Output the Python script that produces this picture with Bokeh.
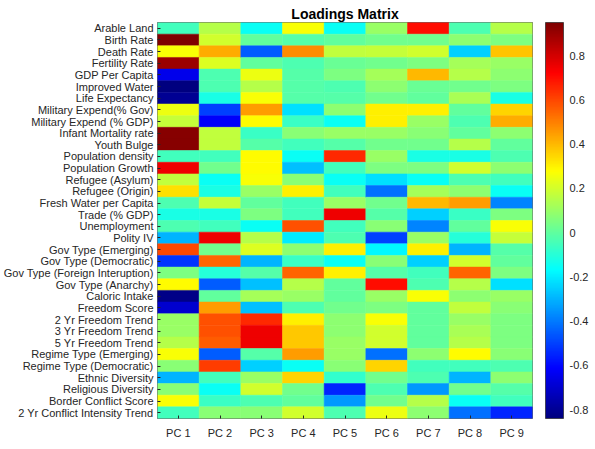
import numpy as np
from bokeh.plotting import figure
from bokeh.models import LinearColorMapper, ColorBar, FixedTicker, ColumnDataSource
from bokeh.transform import transform
from bokeh.embed import file_html
from bokeh.resources import INLINE

variables = ["Arable Land", "Birth Rate", "Death Rate", "Fertility Rate", "GDP Per Capita",
             "Improved Water", "Life Expectancy", "Military Expend(% Gov)",
             "Military Expend (% GDP)", "Infant Mortality rate", "Youth Bulge",
             "Population density", "Population Growth", "Refugee (Asylum)", "Refugee (Origin)",
             "Fresh Water per Capita", "Trade (% GDP)", "Unemployment", "Polity IV",
             "Gov Type (Emerging)", "Gov Type (Democratic)", "Gov Type (Foreign Interuption)",
             "Gov Type (Anarchy)", "Caloric Intake", "Freedom Score", "2 Yr Freedom Trend",
             "3 Yr Freedom Trend", "5 Yr Freedom Trend", "Regime Type (Emerging)",
             "Regime Type (Democratic)", "Ethnic Diversity", "Religious Diversity",
             "Border Conflict Score", "2 Yr Conflict Intensity Trend"]
components = ["PC 1", "PC 2", "PC 3", "PC 4", "PC 5", "PC 6", "PC 7", "PC 8", "PC 9"]

pc1 = [-0.05, 0.95, 0.27, 0.90, -0.65, -0.84, -0.80, 0.25, 0.18, 0.93, 0.93, -0.05, 0.75, 0.17,
       0.33, -0.03, -0.12, -0.03, -0.30, 0.60, -0.52, 0.05, 0.28, -0.82, -0.70, 0.10, 0.10, 0.15,
       0.27, 0.07, -0.30, 0.07, 0.27, -0.05]
pc2 = [0.15, 0.20, 0.42, 0.22, -0.03, -0.03, -0.12, -0.50, -0.62, 0.17, 0.17, -0.05, 0.03, -0.15,
       -0.12, 0.18, -0.12, -0.05, 0.75, 0.03, 0.55, -0.10, -0.45, 0.00, 0.45, 0.58, 0.58, 0.56,
       -0.45, 0.62, -0.05, -0.15, -0.07, 0.07]
pc3 = [-0.15, 0.00, -0.45, 0.00, 0.25, 0.15, 0.27, 0.45, 0.28, -0.07, -0.02, 0.28, 0.28, 0.27,
       0.10, 0.00, 0.05, -0.15, 0.15, 0.22, -0.30, -0.02, -0.28, 0.12, -0.28, 0.65, 0.75, 0.75,
       -0.02, -0.25, 0.10, 0.20, -0.03, 0.07]
pc4 = [0.27, -0.02, 0.48, -0.03, -0.02, -0.02, -0.02, -0.22, -0.07, 0.07, -0.05, -0.15, -0.28, 0.07,
       0.30, -0.05, -0.05, 0.58, -0.20, 0.08, -0.07, 0.55, 0.15, 0.10, -0.03, 0.30, 0.37, 0.37,
       0.45, -0.15, 0.35, 0.03, 0.00, 0.20]
pc5 = [-0.15, 0.00, 0.17, 0.02, 0.05, -0.03, -0.02, 0.08, -0.15, 0.10, -0.02, 0.65, -0.05, -0.15,
       -0.05, 0.10, 0.75, -0.05, -0.03, 0.30, -0.15, 0.30, 0.00, 0.00, 0.03, 0.08, 0.08, 0.10,
       0.10, 0.07, -0.08, -0.55, -0.35, -0.03]
pc6 = [0.10, 0.03, 0.18, 0.03, 0.12, 0.08, 0.03, 0.30, 0.30, 0.10, 0.03, 0.10, 0.05, -0.22,
       -0.42, 0.03, -0.02, 0.07, -0.50, -0.18, 0.07, -0.02, 0.70, 0.10, 0.05, 0.27, 0.20, 0.20,
       -0.42, 0.35, 0.03, -0.03, 0.03, 0.25]
pc7 = [0.70, 0.03, 0.20, 0.05, 0.40, 0.02, 0.00, 0.30, 0.10, 0.07, 0.03, -0.12, 0.05, -0.15,
       0.12, 0.40, -0.25, -0.38, 0.10, 0.30, -0.25, -0.05, -0.03, 0.27, 0.00, 0.00, 0.00, 0.00,
       0.08, -0.05, -0.03, -0.35, 0.15, 0.08]
pc8 = [-0.03, 0.08, -0.25, 0.12, 0.15, 0.03, 0.13, 0.00, -0.03, 0.00, 0.15, -0.12, 0.20, -0.03,
       0.08, 0.45, -0.07, 0.00, -0.10, -0.30, 0.20, 0.55, 0.15, 0.08, 0.17, 0.10, 0.13, 0.15,
       0.28, -0.05, -0.30, 0.03, -0.15, -0.42]
pc9 = [0.15, 0.05, 0.38, 0.10, 0.08, 0.05, -0.12, 0.35, 0.42, 0.08, 0.00, -0.03, 0.08, -0.05,
       -0.15, -0.38, 0.05, 0.27, 0.18, -0.02, 0.00, 0.05, -0.22, 0.10, 0.07, 0.05, 0.05, 0.05,
       0.07, -0.03, 0.08, -0.02, -0.05, -0.55]

series = [pc1, pc2, pc3, pc4, pc5, pc6, pc7, pc8, pc9]
colorbar_ticks = [-0.8, -0.6, -0.4, -0.2, 0, 0.2, 0.4, 0.6, 0.8]
colorbar_labels = ["-0.8", "-0.6", "-0.4", "-0.2", "0", "0.2", "0.4", "0.6", "0.8"]


def jet(n=256):
    cols = []
    for i in range(n):
        t = i / (n - 1)
        r = np.clip(1.5 - abs(4 * t - 3), 0, 1)
        g = np.clip(1.5 - abs(4 * t - 2), 0, 1)
        b = np.clip(1.5 - abs(4 * t - 1), 0, 1)
        cols.append("#%02x%02x%02x" % (int(r * 255), int(g * 255), int(b * 255)))
    return cols


xs, ys, vs = [], [], []
for comp, vals in zip(components, series):
    for var, v in zip(variables, vals):
        xs.append(comp)
        ys.append(var)
        vs.append(v)
src = ColumnDataSource(dict(x=xs, y=ys, v=vs))

mapper = LinearColorMapper(palette=jet(256), low=-0.84, high=0.95)

FONT = "Liberation Sans"
p = figure(width=595, height=449, x_range=components, y_range=list(reversed(variables)),
           output_backend="svg", toolbar_location=None, title="Loadings Matrix",
           min_border_left=157, min_border_right=63, min_border_top=22, min_border_bottom=31)
p.title.align = "center"
p.title.text_font = FONT
p.title.text_font_size = "14px"
p.title.text_font_style = "bold"
p.title.text_color = "#000000"
p.title.standoff = 1
p.title.offset = 0

p.rect(x="x", y="y", width=1, height=1, source=src,
       fill_color=transform("v", mapper), line_color=transform("v", mapper), line_width=0.5)

p.grid.visible = False
p.outline_line_color = "#262626"
p.outline_line_width = 0.7
for ax in (p.xaxis[0], p.yaxis[0]):
    ax.major_label_text_font = FONT
    ax.major_label_text_font_size = "11px"
    ax.major_label_text_color = "#262626"
    ax.axis_line_color = None
    ax.major_tick_in = 3
    ax.major_tick_out = 0
    ax.major_tick_line_color = "#262626"
    ax.major_label_standoff = 4
p.xaxis[0].major_label_standoff = 8

cb = ColorBar(color_mapper=mapper, ticker=FixedTicker(ticks=colorbar_ticks),
              major_label_overrides=dict(zip(colorbar_ticks, colorbar_labels)),
              width=18, padding=0, margin=0, location=(13, 0), label_standoff=6,
              major_label_text_font=FONT, major_label_text_font_size="11px",
              major_label_text_color="#262626",
              major_tick_line_color=None, bar_line_color="#262626", bar_line_width=0.7,
              background_fill_alpha=0)
p.add_layout(cb, "right")

out = file_html(p, INLINE)
open("out.html", "w").write(out)
